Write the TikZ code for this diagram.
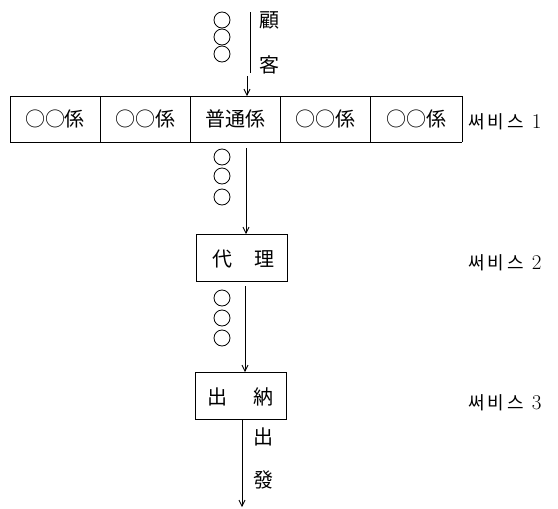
\documentclass[tikz,border=0pt]{standalone}
\usepackage{fontspec}
\newfontfamily\jp{Noto Sans CJK JP}
\newfontfamily\kr{Noto Sans CJK KR}
\usetikzlibrary{arrows.meta}
\tikzset{
  cell/.style={draw=none,minimum width=90pt,minimum height=46pt,inner sep=0pt,font=\jp\fontsize{20}{20}\selectfont},
  lbl/.style={inner sep=0pt,font=\jp\fontsize{20}{20}\selectfont},
  svc/.style={inner sep=0pt,anchor=west,font=\kr\fontsize{18}{18}\selectfont},
  cust/.style={circle,draw,minimum size=16pt,inner sep=0pt,line width=0.8pt},
  ln/.style={line width=0.8pt},
  arr/.style={line width=0.8pt,-{Straight Barb[length=6pt,width=6pt]}}
}
\newcommand{\svtext}[1]{써\hspace{3pt}비\hspace{3pt}스\hspace{8pt}{\rmfamily\fontsize{21}{21}\selectfont #1}}
\begin{document}
\begin{tikzpicture}[x=1pt,y=-1pt]
\useasboundingbox (0,0) rectangle (558,509);
% top customers
\node[cust] (c1) at (222,20) {};
\node[cust] (c2) at (222,37) {};
\node[cust] (c3) at (222,54) {};
\coordinate (t1) at (250,12);
\coordinate (t2) at (250,73);
\draw[ln] (t1) -- (t2);
\node[lbl] (ko) at (269,20) {顧};
\node[lbl] (kk) at (269,65) {客};
\coordinate (a1) at (247,76);
% service 1 row
\node[cell] (s1) at (55,119) {○○係};
\node[cell] (s2) at (145,119) {○○係};
\node[cell] (s3) at (235,119) {普通係};
\node[cell] (s4) at (325,119) {○○係};
\node[cell] (s5) at (416,119) {○○係};
\draw[ln] (10,96) -- (462,96);
\draw[ln] (10,142) -- (462,142);
\draw[ln] (10,96) -- (10,142);
\draw[ln] (462,96) -- (462,142);
\foreach \xx in {100,190,280,370}{\draw[ln] (\xx,96) -- (\xx,142);}
\coordinate (a1e) at (247,96);
\draw[arr] (a1) -- (a1e);
\node[svc] (sv1) at (468,122) {\svtext{1}};
% queue 2
\node[cust] (d1) at (222,157) {};
\node[cust] (d2) at (222,176) {};
\node[cust] (d3) at (222,197) {};
\coordinate (b1) at (246,148);
\coordinate (b2) at (246,234);
\draw[arr] (b1) -- (b2);
% 代理
\node[draw,ln,minimum width=91pt,minimum height=47pt,inner sep=0pt] (dl) at (242,258) {};
\node[lbl] (dl1) at (222,259) {代};
\node[lbl] (dl2) at (264,259) {理};
\node[svc] (sv2) at (468,263) {\svtext{2}};
% queue 3
\node[cust] (e1) at (222,298) {};
\node[cust] (e2) at (222,318) {};
\node[cust] (e3) at (222,338) {};
\coordinate (g1) at (245,286);
\coordinate (g2) at (245,372);
\draw[arr] (g1) -- (g2);
% 出納
\node[draw,ln,minimum width=91pt,minimum height=47pt,inner sep=0pt] (sn) at (241,396) {};
\node[lbl] (sn1) at (217,397) {出};
\node[lbl] (sn2) at (263,397) {納};
\node[svc] (sv3) at (468,403) {\svtext{3}};
% departure
\coordinate (h1) at (242,420);
\coordinate (h2) at (242,507);
\draw[arr] (h1) -- (h2);
\node[lbl] (f1) at (263,437) {出};
\node[lbl] (f2) at (263,480) {發};
\end{tikzpicture}
\end{document}
